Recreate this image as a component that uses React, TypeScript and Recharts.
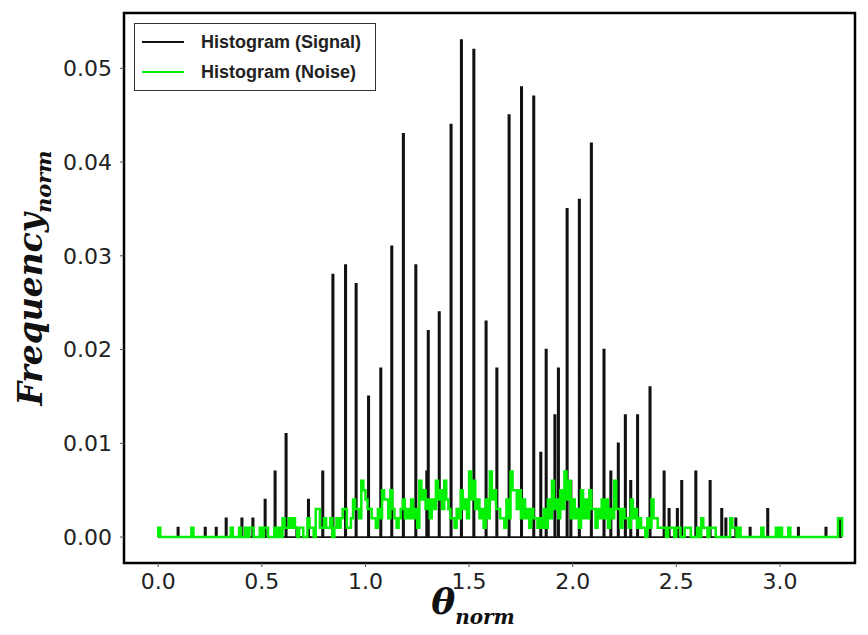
import React from 'react';
import { ComposedChart, Line, XAxis, YAxis, ReferenceArea, Legend, Label } from 'recharts';

// Signal histogram: bin centres (theta_norm) and normalised frequencies of the occupied bins
const SIGNAL_THETA = [
  0.096, 0.227, 0.28, 0.328, 0.404, 0.457, 0.516, 0.564, 0.617, 0.669,
  0.725, 0.794, 0.843, 0.904, 0.955, 1.015, 1.074, 1.127, 1.183, 1.243,
  1.296, 1.303, 1.356, 1.413, 1.463, 1.523, 1.582, 1.634, 1.693, 1.753,
  1.812, 1.846, 1.872, 1.914, 1.931, 1.973, 1.991, 2.032, 2.09, 2.151,
  2.184, 2.22, 2.254, 2.28, 2.313, 2.373, 2.441, 2.465, 2.505, 2.526,
  2.594, 2.663, 2.719, 2.739, 2.787, 2.856, 2.941, 3.089, 3.222, 3.287,
];
const SIGNAL_FREQ = [
  0.001, 0.001, 0.001, 0.002, 0.002, 0.002, 0.004, 0.007, 0.011, 0.001,
  0.004, 0.007, 0.028, 0.029, 0.027, 0.015, 0.018, 0.031, 0.043, 0.029,
  0.007, 0.022, 0.024, 0.044, 0.053, 0.052, 0.023, 0.018, 0.045, 0.048,
  0.047, 0.009, 0.02, 0.013, 0.018, 0.035, 0.006, 0.036, 0.042, 0.02,
  0.007, 0.01, 0.013, 0.006, 0.013, 0.016, 0.007, 0.003, 0.003, 0.006,
  0.007, 0.006, 0.003, 0.002, 0.002, 0.001, 0.003, 0.001, 0.001, 0.002,
];

// Noise histogram: fixed-width bins starting at theta = 0 (one row per 0.1 of theta)
const NOISE_BIN_START = 0;
const NOISE_BIN_WIDTH = 0.01;
const NOISE_FREQ = [
  0.001, 0, 0, 0, 0, 0, 0, 0, 0, 0,
  0, 0, 0, 0, 0, 0, 0.001, 0, 0, 0,
  0, 0, 0, 0, 0, 0, 0, 0, 0, 0,
  0, 0, 0, 0, 0, 0.001, 0, 0, 0, 0.001,
  0, 0, 0.001, 0, 0.001, 0.001, 0, 0, 0, 0.001,
  0, 0.001, 0.001, 0, 0, 0, 0.001, 0, 0.001, 0,
  0.002, 0.001, 0.001, 0.002, 0.001, 0.002, 0.001, 0, 0.001, 0.001,
  0, 0, 0.002, 0.001, 0.001, 0, 0.003, 0.003, 0.001, 0.001,
  0.002, 0.001, 0.001, 0.002, 0, 0.001, 0.002, 0.001, 0.002, 0.003,
  0.003, 0.001, 0.001, 0.002, 0.004, 0.003, 0.003, 0.002, 0.006, 0.005,
  0.004, 0.003, 0.003, 0.002, 0.002, 0.001, 0.003, 0.002, 0.005, 0.004,
  0.004, 0.002, 0.005, 0.003, 0.002, 0.001, 0.002, 0.003, 0.004, 0.002,
  0.003, 0.002, 0.004, 0.002, 0.003, 0.001, 0.006, 0.004, 0.005, 0.003,
  0.004, 0.002, 0.004, 0.003, 0.006, 0.004, 0.005, 0.003, 0.006, 0.004,
  0.003, 0.002, 0.002, 0.001, 0.003, 0.002, 0.005, 0.003, 0.004, 0.002,
  0.007, 0.004, 0.006, 0.003, 0.004, 0.002, 0.003, 0.001, 0.004, 0.002,
  0.007, 0.004, 0.005, 0.003, 0.003, 0.002, 0.002, 0.001, 0.004, 0.002,
  0.007, 0.005, 0.005, 0.003, 0.005, 0.002, 0.004, 0.002, 0.003, 0.001,
  0.003, 0.002, 0.002, 0.001, 0.002, 0.001, 0.003, 0.001, 0.004, 0.002,
  0.006, 0.003, 0.004, 0.002, 0.005, 0.003, 0.007, 0.004, 0.006, 0.002,
  0.004, 0.002, 0.003, 0.001, 0.005, 0.002, 0.004, 0.002, 0.005, 0.003,
  0.003, 0.001, 0.003, 0.002, 0.004, 0.002, 0.004, 0.001, 0.003, 0.002,
  0.006, 0.003, 0.003, 0.001, 0.003, 0.002, 0.002, 0.001, 0.004, 0.002,
  0.003, 0.001, 0.002, 0.001, 0.001, 0, 0.002, 0.001, 0.004, 0.002,
  0.002, 0.001, 0.001, 0.001, 0.001, 0, 0.001, 0.001, 0.001, 0,
  0.001, 0.001, 0, 0, 0.001, 0.001, 0.001, 0, 0, 0,
  0.001, 0, 0.002, 0.001, 0.001, 0, 0.001, 0.001, 0.001, 0,
  0, 0, 0, 0, 0, 0, 0.002, 0.001, 0.001, 0,
  0.001, 0, 0, 0, 0, 0, 0, 0, 0, 0,
  0, 0.001, 0, 0, 0, 0, 0, 0, 0.001, 0,
  0.001, 0, 0, 0, 0.001, 0, 0, 0, 0, 0,
  0, 0, 0, 0, 0, 0, 0, 0, 0, 0,
  0, 0, 0, 0, 0, 0, 0, 0, 0.002, 0.002,
];

const X_TICKS = [0, 0.5, 1, 1.5, 2, 2.5, 3];
const Y_TICKS = [0, 0.01, 0.02, 0.03, 0.04, 0.05];
const SERIES_NAMES = ['Histogram (Signal)', 'Histogram (Noise)'];

const X_DOMAIN: [number, number] = [-0.165, 3.362];
const Y_DOMAIN: [number, number] = [-0.00277, 0.0559];
const SPIKE_HALF_WIDTH = 0.003;

const SIGNAL_COLOR = '#111111';
const NOISE_COLOR = '#04f004';

type Pt = { x: number; y: number };

// Outline of the signal histogram, drawn as a stepAfter line
function buildSignalSteps(): Pt[] {
  const pts: Pt[] = [{ x: 0, y: 0 }];
  SIGNAL_THETA.forEach((t, i) => {
    pts.push({ x: t - SPIKE_HALF_WIDTH, y: SIGNAL_FREQ[i] });
    pts.push({ x: t + SPIKE_HALF_WIDTH, y: 0 });
  });
  pts.push({ x: 3.3, y: 0 });
  return pts;
}

// Outline of the noise histogram ('step' style: starts and ends on the baseline)
function buildNoiseSteps(): Pt[] {
  const pts: Pt[] = [{ x: NOISE_BIN_START, y: 0 }];
  NOISE_FREQ.forEach((v, i) => {
    pts.push({ x: NOISE_BIN_START + i * NOISE_BIN_WIDTH, y: v });
  });
  pts.push({ x: NOISE_BIN_START + NOISE_FREQ.length * NOISE_BIN_WIDTH, y: 0 });
  return pts;
}

const signalSteps = buildSignalSteps();
const noiseSteps = buildNoiseSteps();

const tickStyle = { fontFamily: '"DejaVu Sans", sans-serif', fontSize: 22, fill: '#222' };
const mathFont = '"DejaVu Serif", serif';

function LegendBox() {
  const rows = [
    { name: SERIES_NAMES[0], color: SIGNAL_COLOR },
    { name: SERIES_NAMES[1], color: NOISE_COLOR },
  ];
  return (
    <div
      style={{
        width: 242,
        height: 68,
        border: '1px solid #333',
        background: '#fff',
        boxSizing: 'border-box',
        paddingTop: 3,
      }}
    >
      {rows.map((r) => (
        <div key={r.name} style={{ display: 'flex', alignItems: 'center', height: 30 }}>
          <div style={{ width: 42, height: 2, background: r.color, marginLeft: 7, marginRight: 17 }} />
          <span
            style={{
              fontFamily: '"Liberation Sans", Arial, sans-serif',
              fontWeight: 'bold',
              fontSize: 18,
              color: '#222',
              whiteSpace: 'nowrap',
            }}
          >
            {r.name}
          </span>
        </div>
      ))}
    </div>
  );
}

export default function App() {
  return (
    <div style={{ position: 'absolute', left: 0, top: 0, width: 868, height: 635, background: '#fff' }}>
      <ComposedChart width={868} height={635} margin={{ top: 13, right: 13, left: 14, bottom: 0 }}>
        <XAxis
          type="number"
          dataKey="x"
          domain={X_DOMAIN}
          allowDataOverflow
          ticks={X_TICKS}
          tickFormatter={(v: number) => v.toFixed(1)}
          axisLine={false}
          tickLine={{ stroke: '#555' }}
          tickSize={4}
          tickMargin={6}
          height={72}
          tick={tickStyle}
          interval={0}
        >
          <Label
            content={() => (
              <text
                x={473}
                y={614}
                textAnchor="middle"
                fontFamily={mathFont}
                fontWeight="bold"
                fontStyle="italic"
                fill="#111"
              >
                <tspan fontSize={36}>θ</tspan>
                <tspan fontSize={20} dy={10}>norm</tspan>
              </text>
            )}
          />
        </XAxis>
        <YAxis
          type="number"
          dataKey="y"
          domain={Y_DOMAIN}
          allowDataOverflow
          ticks={Y_TICKS}
          tickFormatter={(v: number) => v.toFixed(2)}
          axisLine={false}
          tickLine={{ stroke: '#555' }}
          tickSize={4}
          tickMargin={8}
          width={110}
          tick={tickStyle}
          interval={0}
        >
          <Label
            content={() => (
              <text
                transform="translate(42,278) rotate(-90)"
                textAnchor="middle"
                fontFamily={mathFont}
                fontWeight="bold"
                fontStyle="italic"
                fill="#111"
              >
                <tspan fontSize={33}>Frequency</tspan>
                <tspan fontSize={21} dy={9}>norm</tspan>
              </text>
            )}
          />
        </YAxis>
        <Line
          data={signalSteps}
          dataKey="y"
          name={SERIES_NAMES[0]}
          type="stepAfter"
          stroke={SIGNAL_COLOR}
          strokeWidth={1.8}
          dot={false}
          activeDot={false}
          isAnimationActive={false}
        />
        <Line
          data={noiseSteps}
          dataKey="y"
          name={SERIES_NAMES[1]}
          type="stepAfter"
          stroke={NOISE_COLOR}
          strokeWidth={2.5}
          dot={false}
          activeDot={false}
          isAnimationActive={false}
        />
        <ReferenceArea
          x1={X_DOMAIN[0]}
          x2={X_DOMAIN[1]}
          y1={Y_DOMAIN[0]}
          y2={Y_DOMAIN[1]}
          fill="none"
          fillOpacity={0}
          stroke="#000"
          strokeWidth={2.5}
          ifOverflow="visible"
        />
        <Legend
          layout="vertical"
          align="center"
          verticalAlign="middle"
          content={() => <LegendBox />}
          wrapperStyle={{ position: 'absolute', left: 134, top: 23, width: 242, height: 68 }}
        />
      </ComposedChart>
    </div>
  );
}
